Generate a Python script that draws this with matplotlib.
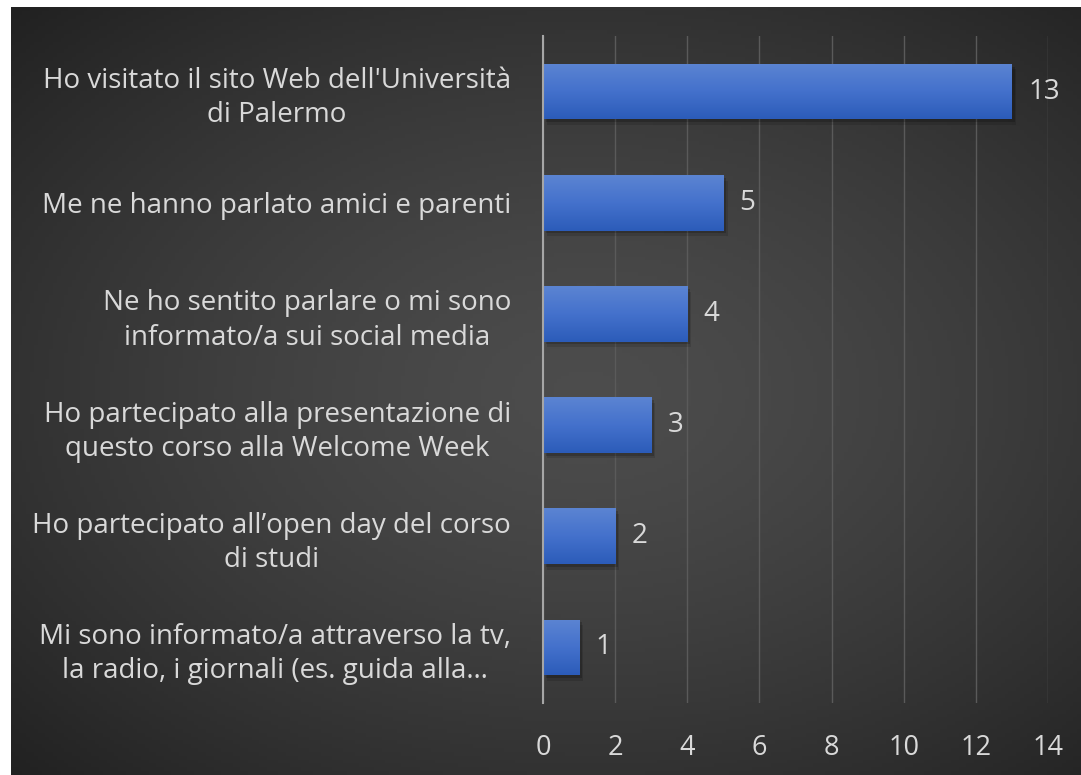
import numpy as np
import matplotlib.pyplot as plt
import matplotlib.patheffects as pe
from matplotlib.colors import LinearSegmentedColormap

# data
categories = [
    "Ho visitato il sito Web dell'Università\ndi Palermo",
    "Me ne hanno parlato amici e parenti",
    "Ne ho sentito parlare o mi sono\ninformato/a sui social media",
    "Ho partecipato alla presentazione di\nquesto corso alla Welcome Week",
    "Ho partecipato all\u2019open day del corso\ndi studi",
    "Mi sono informato/a attraverso la tv,\nla radio, i giornali (es. guida alla\u2026",
]
values = [13, 5, 4, 3, 2, 1]
xticks = [0, 2, 4, 6, 8, 10, 12, 14]

W, H = 1081, 775
fig = plt.figure(figsize=(W / 100, H / 100), dpi=100)
fig.patch.set_facecolor("white")

# dark radial background (chart area inside a thin white margin)
bg = fig.add_axes([11 / W, 0, 1 - 11 / W, 1 - 7 / H])
bg.set_axis_off()
yy, xx = np.mgrid[0:200, 0:280]
cx, cy = 150, 100
r = np.sqrt(((xx - cx) / 150) ** 2 + ((yy - cy) / 100) ** 2) / np.sqrt(2)
shade = 0.30 - 0.17 * r ** 1.4
bg.imshow(np.dstack([shade] * 3), extent=[0, 1, 0, 1], aspect="auto")
bg.set_xlim(0, 1)
bg.set_ylim(0, 1)

ax = fig.add_axes([543 / W, 1 - 703 / H, (1048 - 543) / W, (703 - 36) / H])
ax.patch.set_alpha(0)

txt = "#d9d9d9"
font = "Open Sans"

y = np.arange(len(values))
shadow = [pe.SimplePatchShadow(offset=(3, -4), alpha=0.12, shadow_rgbFace="black"),
          pe.SimplePatchShadow(offset=(2, -2), alpha=0.18, shadow_rgbFace="black"),
          pe.Normal()]
bars = ax.barh(y, values, height=0.5, color="#3a68c6", zorder=3, path_effects=shadow)

# light at the top of each bar, darker at the bottom
grad = LinearSegmentedColormap.from_list("bar", ["#5b84d2", "#4471cc", "#2c5cb9"])
g = np.linspace(0, 1, 64).reshape(-1, 1)
for b in bars:
    x0, y0, w, h = b.get_x(), b.get_y(), b.get_width(), b.get_height()
    im = ax.imshow(g, cmap=grad, extent=[x0, x0 + w, y0 + h, y0], aspect="auto",
                   origin="upper", zorder=4, interpolation="bilinear")
    im.set_clip_path(b)

for yi, v in zip(y, values):
    ax.text(v + 0.45, yi, str(v), va="center", ha="left", color=txt,
            fontsize=20, family=font, zorder=5)

ax.set_xlim(0, 14)
ax.set_ylim(len(values) - 0.5, -0.5)
ax.set_xticks(xticks)
ax.set_xticklabels([str(t) for t in xticks], family=font, fontsize=19.5, color=txt)
ax.set_yticks(y)
ax.set_yticklabels(categories, family=font, fontsize=20, color=txt,
                   ha="right", multialignment="center", linespacing=1.3)
ax.tick_params(axis="both", length=0)
ax.tick_params(axis="x", pad=22)
ax.tick_params(axis="y", pad=23)
ax.xaxis.grid(True, color="#5a5a5a", linewidth=1.0, zorder=0)
ax.set_axisbelow(True)
for s in ["top", "right", "bottom"]:
    ax.spines[s].set_visible(False)
ax.spines["left"].set_color("#a6a6a6")
ax.spines["left"].set_linewidth(1.5)
ax.spines["left"].set_zorder(6)

fig.savefig("out.png", dpi=100, facecolor="white")
